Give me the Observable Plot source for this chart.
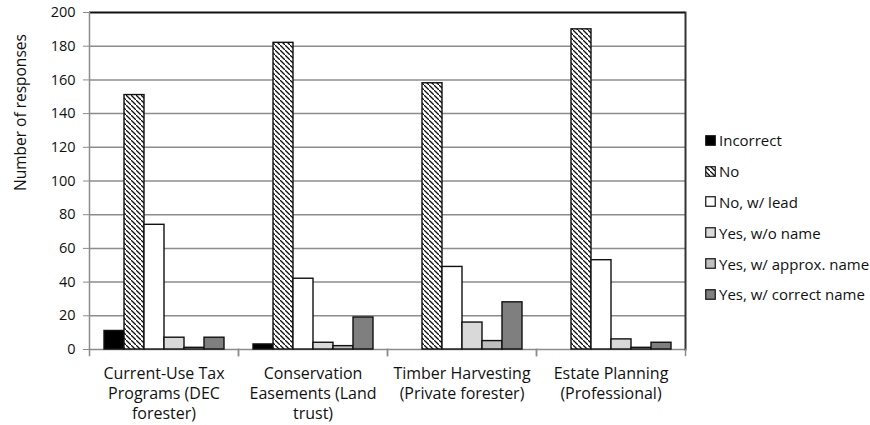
<!DOCTYPE html>
<html>
<head>
<meta charset="utf-8">
<script src="https://cdn.jsdelivr.net/npm/d3@7"></script>
<script src="https://cdn.jsdelivr.net/npm/@observablehq/plot@0.6"></script>
<style>
  html, body { margin: 0; padding: 0; background: #fff; }
  #wrap { position: relative; width: 870px; height: 425px; font-family: "Open Sans", sans-serif; }
  #legend { position: absolute; left: 705px; top: 125px; font-size: 15px; color: #111; }
  .item { display: flex; align-items: center; height: 30.8px; white-space: nowrap; }
  .item svg { margin-right: 3px; flex: none; }
</style>
</head>
<body>
<svg width="0" height="0" style="position:absolute">
  <defs>
    <pattern id="hatch" patternUnits="userSpaceOnUse" width="5" height="5">
      <rect width="5" height="5" fill="#fff"></rect>
      <path d="M-1,-1 L1,1 M0,0 L5,5 M4,4 L6,6" stroke="#111" stroke-width="1.3"></path>
    </pattern>
  </defs>
</svg>
<div id="wrap">
  <div id="chart"></div>
  <div id="legend"></div>
</div>
<script>
const categories = [
  "Current-Use Tax Programs (DEC forester)",
  "Conservation Easements (Land trust)",
  "Timber Harvesting (Private forester)",
  "Estate Planning (Professional)"
];
const categoryLines = [
  "Current-Use Tax\nPrograms (DEC\nforester)",
  "Conservation\nEasements (Land\ntrust)",
  "Timber Harvesting\n(Private forester)",
  "Estate Planning\n(Professional)"
];
const series = ["Incorrect", "No", "No, w/ lead", "Yes, w/o name", "Yes, w/ approx. name", "Yes, w/ correct name"];
const incorrect   = [11, 3, 0, 0];
const no          = [151, 182, 158, 190];
const noLead      = [74, 42, 49, 53];
const yesNoName   = [7, 4, 16, 6];
const yesApprox   = [1, 2, 5, 1];
const yesCorrect  = [7, 19, 28, 4];
const yTicks = [0, 20, 40, 60, 80, 100, 120, 140, 160, 180, 200];
const yLabel = "Number of responses";
const fills = ["#000000", "url(#hatch)", "#ffffff", "#d9d9d9", "#bfbfbf", "#7f7f7f"];

const seriesValues = [incorrect, no, noLead, yesNoName, yesApprox, yesCorrect];
const rows = [];
categories.forEach((c, i) => {
  series.forEach((s, j) => {
    rows.push({category: c, series: s, value: seriesValues[j][i]});
  });
});
const labelOf = new Map(categories.map((c, i) => [c, categoryLines[i]]));

const H = 425, mT = 12, mB = 76;
const plot = Plot.plot({
  width: 870,
  height: H,
  marginLeft: 88,
  marginRight: 184,
  marginTop: mT,
  marginBottom: mB,
  style: {fontFamily: "Open Sans, sans-serif", fontSize: "14px", color: "#111", background: "#fff"},
  fx: {domain: categories, padding: 0},
  x: {domain: series, paddingInner: 0, paddingOuter: 0.72, axis: null},
  y: {domain: [0, 200]},
  color: {domain: series, range: fills, type: "ordinal"},
  marks: [
    Plot.ruleY(yTicks.filter(t => t > 0 && t < 200), {stroke: "#8c8c8c", strokeWidth: 1.5}),
    Plot.ruleY([0], {stroke: "#8c8c8c", strokeWidth: 1.5}),
    Plot.barY(rows.filter(d => d.value > 0), {fx: "category", x: "series", y: "value", fill: "series", stroke: "#111", strokeWidth: 1.4}),
    Plot.ruleY([200], {stroke: "#111", strokeWidth: 2}),
    Plot.frame({facet: "super", anchor: "left", stroke: "#8c8c8c", strokeWidth: 1.5}),
    Plot.frame({facet: "super", anchor: "right", stroke: "#333", strokeWidth: 2}),
    Plot.frame({anchor: "left", insetTop: H - mT - mB, insetBottom: -6, stroke: "#8c8c8c", strokeWidth: 1.5}),
    Plot.frame({anchor: "right", insetTop: H - mT - mB, insetBottom: -6, stroke: "#8c8c8c", strokeWidth: 1.5}),
    Plot.axisY({ticks: yTicks, tickSize: 6, tickPadding: 8, stroke: "#8c8c8c", fill: "#111",
      fontSize: 14.5, label: null}),
    Plot.text([yLabel], {facet: "super", frameAnchor: "left", text: d => d, rotate: -90,
      dx: -68, dy: 10, fontSize: 15.5, fill: "#111"}),
    Plot.axisFx({anchor: "bottom", tickSize: 0, tickPadding: 15, lineHeight: 1.25, label: null,
      fontSize: 16, tickFormat: c => labelOf.get(c), fill: "#111"})
  ]
});
document.getElementById("chart").appendChild(plot);

const legend = document.getElementById("legend");
series.forEach((s, j) => {
  const item = document.createElement("div");
  item.className = "item";
  item.innerHTML = `<svg width="11" height="11"><rect x="0.75" y="0.75" width="9.5" height="9.5" fill="${fills[j]}" stroke="#111" stroke-width="1.2"></rect></svg><span>${s}</span>`;
  legend.appendChild(item);
});
</script>
</body>
</html>
